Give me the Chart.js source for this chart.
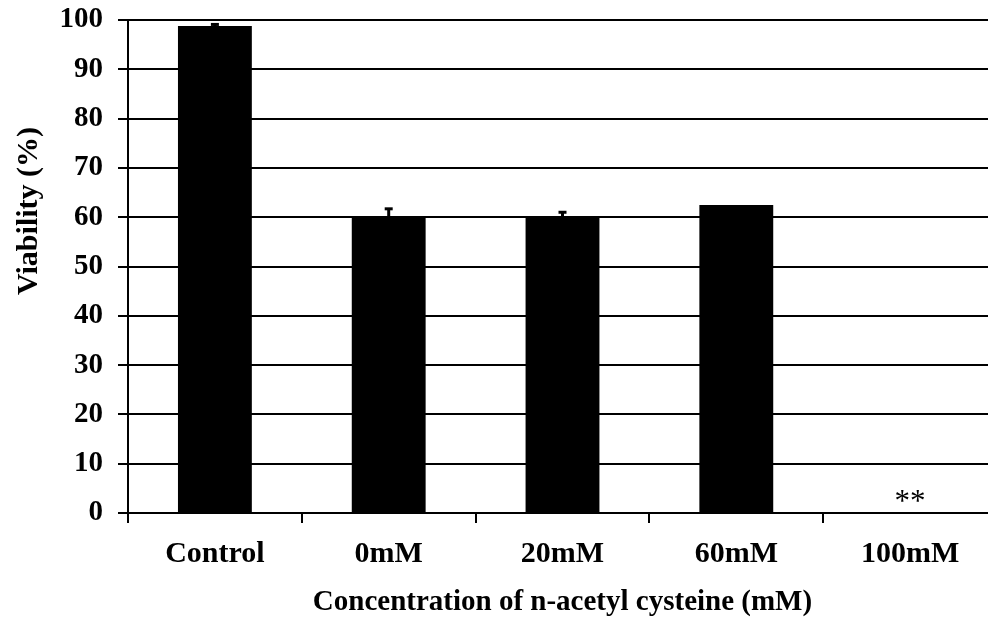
<!DOCTYPE html>
<html>
<head>
<meta charset="utf-8">
<title>Viability vs n-acetyl cysteine</title>
<script src="https://cdn.jsdelivr.net/npm/chart.js@4/dist/chart.umd.min.js"></script>
<style>
  html, body { margin: 0; padding: 0; background: #fff; overflow: hidden; }
  #wrap { width: 988px; height: 621px; overflow: hidden; }
  canvas { display: block; }
</style>
</head>
<body>
<div id="wrap"><canvas id="chart" width="1000" height="621" style="width:1000px;height:621px"></canvas></div>
<script>
// Cell viability (%) after n-acetyl cysteine treatment
const categories = ['Control', '0mM', '20mM', '60mM', '100mM'];
const viability = [98.8, 60.0, 60.0, 62.5, 0];
const errors = [0.3, 1.7, 1.0, 0, 0];
const significance = ['', '', '', '', '**'];
const yTicks = [0, 10, 20, 30, 40, 50, 60, 70, 80, 90, 100];

const FONT = '"Liberation Serif", "Times New Roman", serif';

// Error bars (upper whisker with a short cap) and significance marks
const errorBarPlugin = {
  id: 'errorBars',
  afterDatasetsDraw(chart) {
    const { ctx, scales: { y } } = chart;
    const meta = chart.getDatasetMeta(0);
    ctx.save();
    ctx.strokeStyle = '#000';
    ctx.fillStyle = '#000';
    meta.data.forEach((bar, i) => {
      const err = errors[i];
      if (err > 0) {
        const yHi = y.getPixelForValue(viability[i] + err);
        const yLo = y.getPixelForValue(viability[i] - err);
        ctx.lineWidth = 3;
        ctx.beginPath();
        ctx.moveTo(bar.x, yLo);
        ctx.lineTo(bar.x, yHi);
        ctx.stroke();
        ctx.beginPath();
        ctx.moveTo(bar.x - 4, yHi);
        ctx.lineTo(bar.x + 4, yHi);
        ctx.stroke();
      }
      if (significance[i]) {
        ctx.font = 'normal 31px ' + FONT;
        ctx.textAlign = 'center';
        ctx.textBaseline = 'alphabetic';
        ctx.fillText(significance[i], bar.x, y.getPixelForValue(viability[i]) - 2);
      }
    });
    ctx.restore();
  }
};

// Rotated y-axis title
const yTitlePlugin = {
  id: 'yTitle',
  afterDraw(chart) {
    const { ctx } = chart;
    ctx.save();
    ctx.translate(29, 211);
    ctx.rotate(-Math.PI / 2);
    ctx.font = 'bold 30px ' + FONT;
    ctx.fillStyle = '#000';
    ctx.textAlign = 'center';
    ctx.textBaseline = 'middle';
    ctx.fillText('Viability (%)', 0, 0);
    ctx.restore();
  }
};

new Chart(document.getElementById('chart'), {
  type: 'bar',
  data: {
    labels: categories,
    datasets: [{
      data: viability,
      backgroundColor: '#000',
      borderWidth: 0,
      barPercentage: 0.425,
      categoryPercentage: 1.0
    }]
  },
  options: {
    responsive: false,
    animation: false,
    devicePixelRatio: 1,
    layout: { padding: { top: 20, right: 3, left: 0, bottom: 0 } },
    plugins: {
      legend: { display: false },
      tooltip: { enabled: false }
    },
    scales: {
      x: {
        offset: true,
        grid: {
          display: true,
          offset: true,
          drawOnChartArea: false,
          drawTicks: true,
          tickLength: 10,
          color: '#000',
          lineWidth: 2
        },
        border: { display: true, color: '#000', width: 2 },
        ticks: {
          color: '#000',
          padding: 13,
          font: { family: FONT, size: 30, weight: 'bold' },
          maxRotation: 0
        },
        title: {
          display: true,
          text: 'Concentration of n-acetyl cysteine (mM)',
          color: '#000',
          font: { family: FONT, size: 29, weight: 'bold' },
          padding: { top: 0, bottom: 1 }
        },
        afterFit(scale) {
          scale.height = 108;
          scale.paddingLeft = 0;
          scale.paddingRight = 0;
        }
      },
      y: {
        min: 0,
        max: 100,
        afterBuildTicks(scale) { scale.ticks = yTicks.map(v => ({ value: v })); },
        grid: {
          color: '#000',
          lineWidth: 2,
          drawTicks: true,
          tickLength: 10
        },
        border: { display: true, color: '#000', width: 2 },
        ticks: {
          color: '#000',
          padding: 15,
          font: { family: FONT, size: 29, weight: 'bold' }
        },
        afterFit(scale) {
          scale.width = 128;
          scale.paddingTop = 0;
          scale.paddingBottom = 0;
        }
      }
    }
  },
  plugins: [errorBarPlugin, yTitlePlugin]
});
</script>
</body>
</html>
